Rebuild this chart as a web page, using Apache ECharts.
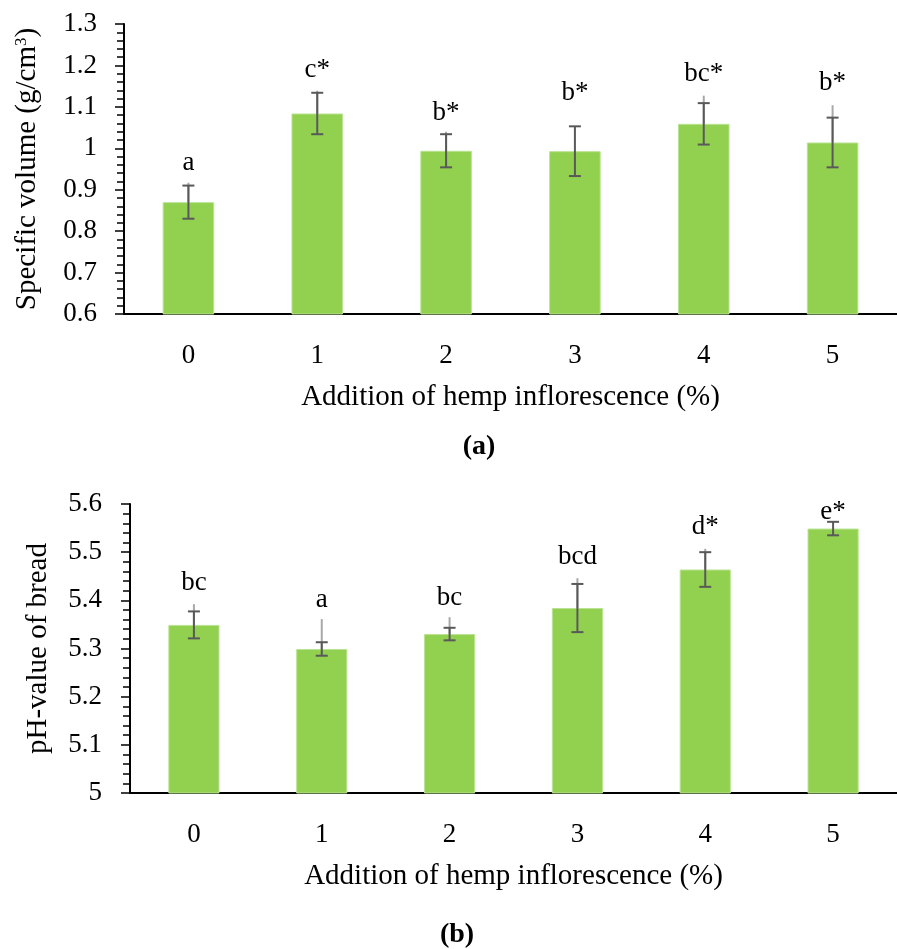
<!DOCTYPE html>
<html>
<head>
<meta charset="utf-8">
<script src="https://cdn.jsdelivr.net/npm/echarts@6/dist/echarts.min.js"></script>
<style>html,body{margin:0;padding:0;background:#fff}#c{width:897px;height:949px}</style>
</head>
<body>
<div id="c"></div>
<script>
const categories = ['0', '1', '2', '3', '4', '5'];
const yTitleA = 'Specific volume (g/cm{sup|3})';
const yTitleB = 'pH-value of bread';
const xTitle = 'Addition of hemp inflorescence (%)';

// (a) specific volume
const volMean = [0.870, 1.084, 0.994, 0.993, 1.059, 1.014];
const volSD = [0.040, 0.050, 0.040, 0.060, 0.050, 0.060];
const volLightTop = [0.917, 1.139, 1.040, null, 1.127, 1.104];
const volLetters = ['a', 'c*', 'b*', 'b*', 'bc*', 'b*'];
const volLetterY = [0.964, 1.189, 1.085, 1.133, 1.179, 1.158];

// (b) pH
const phMean = [5.349, 5.299, 5.330, 5.384, 5.464, 5.549];
const phSD = [0.028, 0.014, 0.013, 0.050, 0.036, 0.014];
const phLightTop = [5.392, 5.361, 5.365, 5.446, 5.507, null];
const phLetters = ['bc', 'a', 'bc', 'bcd', 'd*', 'e*'];
const phLetterY = [5.436, 5.400, 5.405, 5.490, 5.552, 5.583];

const FONT = 'Liberation Serif';
const FS = 27;
const FST = 29;
const GREEN = '#92D050';
const DARK = '#595959';
const LIGHT = '#A8A8A8';

function buildErr(mean, sd, light, letters, ly) {
  return mean.map((m, i) => [i, m, sd[i], light[i] == null ? NaN : light[i], ly[i], letters[i]]);
}

function renderErr(params, api) {
  const x = api.value(0), m = api.value(1), sd = api.value(2), lt = api.value(3), ly = api.value(4);
  const letter = api.value(5);
  const pm = api.coord([x, m]);
  const pu = api.coord([x, m + sd]);
  const pl = api.coord([x, m - sd]);
  const hw = 6;
  const children = [];
  if (!isNaN(lt)) {
    const pt = api.coord([x, lt]);
    children.push({type: 'line', shape: {x1: pt[0], y1: pt[1], x2: pm[0], y2: pm[1]}, style: {stroke: LIGHT, lineWidth: 2}});
  }
  children.push({type: 'line', shape: {x1: pu[0], y1: pu[1], x2: pl[0], y2: pl[1]}, style: {stroke: DARK, lineWidth: 2}});
  children.push({type: 'line', shape: {x1: pu[0] - hw, y1: pu[1], x2: pu[0] + hw, y2: pu[1]}, style: {stroke: DARK, lineWidth: 2}});
  children.push({type: 'line', shape: {x1: pl[0] - hw, y1: pl[1], x2: pl[0] + hw, y2: pl[1]}, style: {stroke: DARK, lineWidth: 2}});
  const pLab = api.coord([x, ly]);
  children.push({type: 'text', x: pLab[0], y: pLab[1], style: {text: letter, fill: '#000', font: FS + 'px "' + FONT + '"', align: 'center', verticalAlign: 'middle'}});
  return {type: 'group', children};
}

const txt = {fontFamily: FONT, fontSize: FS, color: '#000'};
const ttl = {fontFamily: FONT, fontSize: FST, color: '#000'};

function yAxis(gi, min, max, name, gap, margin, rich) {
  return {
    type: 'value', gridIndex: gi, min, max, interval: 0.1,
    name, nameLocation: 'middle', nameGap: gap,
    nameTextStyle: Object.assign({}, ttl, rich ? {rich} : {}),
    axisLine: {show: true, lineStyle: {color: '#000', width: 2}},
    axisTick: {show: true, inside: false, length: 9, lineStyle: {color: '#000', width: 1.5}},
    minorTick: {show: true, splitNumber: 5, length: 7, lineStyle: {color: '#000', width: 1.5}},
    splitLine: {show: false},
    axisLabel: Object.assign({}, txt, {margin})
  };
}
function xAxis(gi) {
  return {
    type: 'category', gridIndex: gi, data: categories,
    name: xTitle, nameLocation: 'middle', nameGap: 69, nameTextStyle: ttl,
    axisLine: {show: true, lineStyle: {color: '#000', width: 2}},
    axisTick: {show: false},
    axisLabel: Object.assign({}, txt, {margin: 28})
  };
}

const chart = echarts.init(document.getElementById('c'), null, {renderer: 'canvas'});
chart.setOption({
  animation: false,
  backgroundColor: '#fff',
  grid: [
    {left: 124, top: 24, width: 782, height: 290},
    {left: 130, top: 504, width: 776, height: 289}
  ],
  xAxis: [xAxis(0), xAxis(1)],
  yAxis: [
    yAxis(0, 0.6, 1.3, yTitleA, 82, 27, {sup: {fontFamily: FONT, fontSize: 17, verticalAlign: 'top', padding: [0, 0, 12, 0]}}),
    yAxis(1, 5.0, 5.6, yTitleB, 77, 28)
  ],
  series: [
    {type: 'bar', xAxisIndex: 0, yAxisIndex: 0, data: volMean, barWidth: '40%',
     itemStyle: {color: GREEN, borderColor: '#B9E391', borderWidth: 1}},
    {type: 'custom', xAxisIndex: 0, yAxisIndex: 0, data: buildErr(volMean, volSD, volLightTop, volLetters, volLetterY),
     renderItem: renderErr, z: 5},
    {type: 'bar', xAxisIndex: 1, yAxisIndex: 1, data: phMean, barWidth: '40%',
     itemStyle: {color: GREEN, borderColor: '#B9E391', borderWidth: 1}},
    {type: 'custom', xAxisIndex: 1, yAxisIndex: 1, data: buildErr(phMean, phSD, phLightTop, phLetters, phLetterY),
     renderItem: renderErr, z: 5}
  ],
  graphic: [
    {type: 'text', x: 479, y: 447, style: {text: '(a)', font: 'bold 28px "' + FONT + '"', fill: '#000', align: 'center', verticalAlign: 'middle'}},
    {type: 'text', x: 457, y: 935, style: {text: '(b)', font: 'bold 28px "' + FONT + '"', fill: '#000', align: 'center', verticalAlign: 'middle'}}
  ]
});
</script>
</body>
</html>
